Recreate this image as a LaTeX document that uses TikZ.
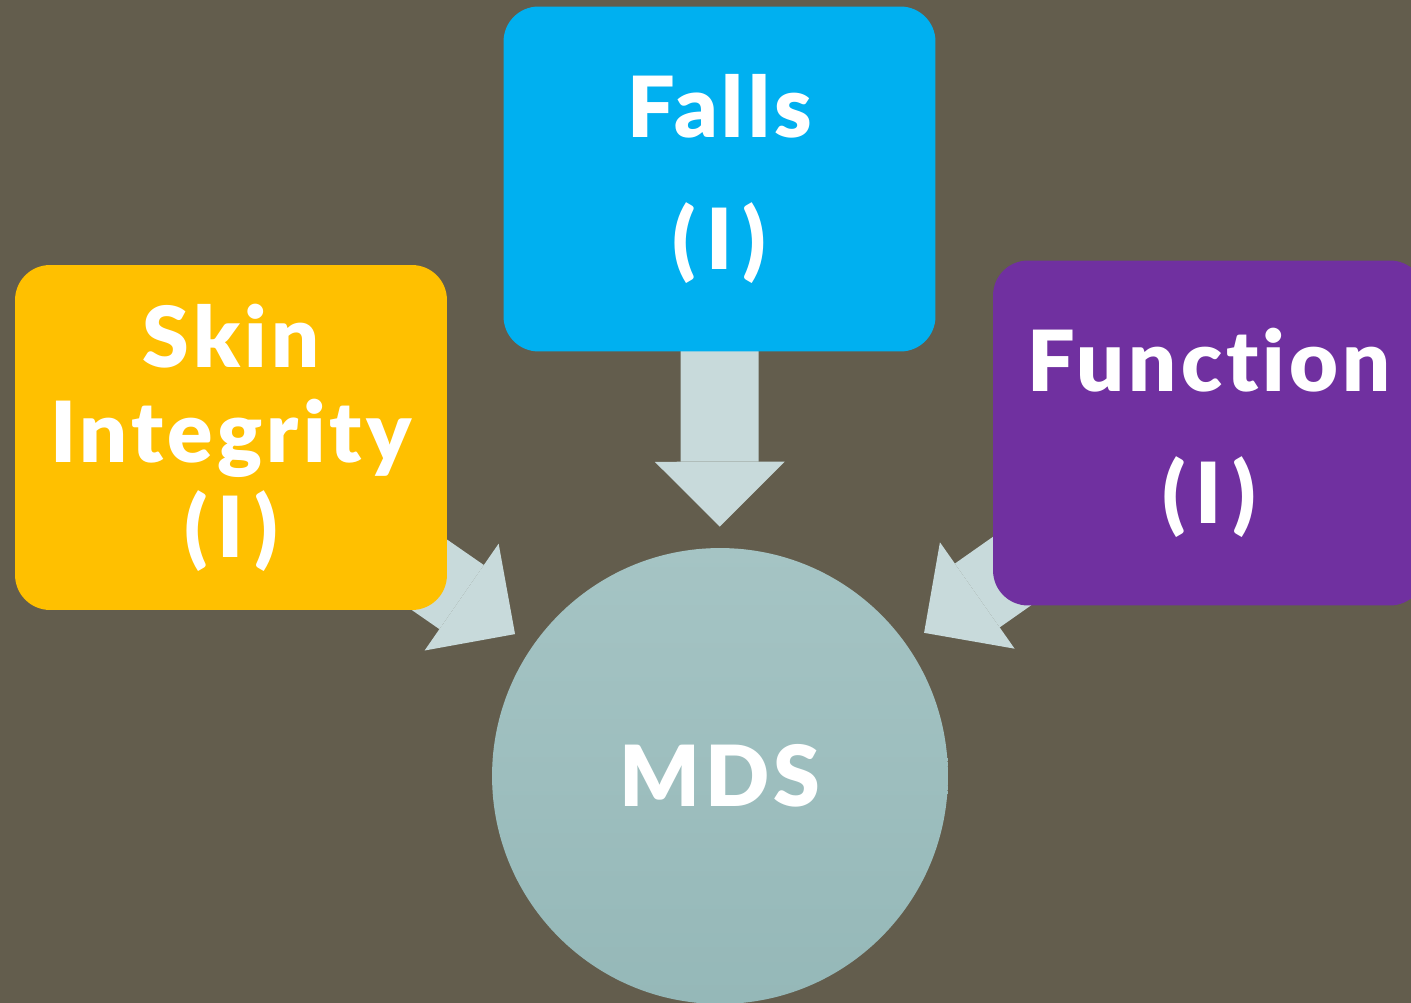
\documentclass[tikz,border=0pt]{standalone}
\usepackage{fontspec}
\setmainfont{Lato}[LetterSpace=5, BoldFont={Lato Black}, Ligatures=NoCommon]
\usetikzlibrary{positioning,arrows.meta}
\definecolor{bgolive}{HTML}{635D4D}
\definecolor{skinyellow}{HTML}{FFC000}
\definecolor{fallsblue}{HTML}{00B0F0}
\definecolor{funcpurple}{HTML}{7030A0}
\definecolor{arrowgray}{HTML}{C8DADB}
\definecolor{mdstop}{HTML}{A5C4C4}
\definecolor{mdsbottom}{HTML}{95B8B8}
\pgfdeclarelayer{back}
\pgfdeclarelayer{arrows}
\pgfsetlayers{back,arrows,main}
\newcommand{\levelI}{(\kern0.12em I\kern0.12em)}

\begin{document}
\begin{tikzpicture}[x=0.02cm, y=-0.02cm]
\tikzset{box/.style={rounded corners=0.7cm, minimum width=8.64cm, minimum height=6.9cm, inner sep=0pt, align=center, text=white, font=\fontsize{48}{75}\selectfont\bfseries}}
\tikzset{bigarrow/.style={draw=arrowgray, line width=1.56cm, shorten <=-2cm, shorten >=0.42cm, -{Triangle[width=2.6cm,length=1.3cm,line width=0pt]}}}

\begin{pgfonlayer}{back}
\fill[bgolive] (0,0) rectangle (1411,1003);
\end{pgfonlayer}
\useasboundingbox (0,0) rectangle (1411,1003);

\node[box, fill=skinyellow, font=\fontsize{48}{54}\selectfont\bfseries] (skin) at (231,437.5) {Skin\\Integrity\\\levelI};
\node[box, fill=fallsblue] (falls) at (719.5,179) {Falls\\\levelI};
\node[box, fill=funcpurple] (function) at (1209,433) {Function\\\levelI};
\node[circle, minimum size=9.12cm, top color=mdstop, bottom color=mdsbottom, text=white, font=\fontsize{48}{56}\selectfont\bfseries] (mds) at (720,776) {MDS};

% block arrows into the circle
\begin{pgfonlayer}{arrows}
\draw[bigarrow] (falls) -- (mds);
\draw[bigarrow] (skin) -- (mds);
\draw[bigarrow] (function) -- (mds);
\end{pgfonlayer}

\end{tikzpicture}
\end{document}
